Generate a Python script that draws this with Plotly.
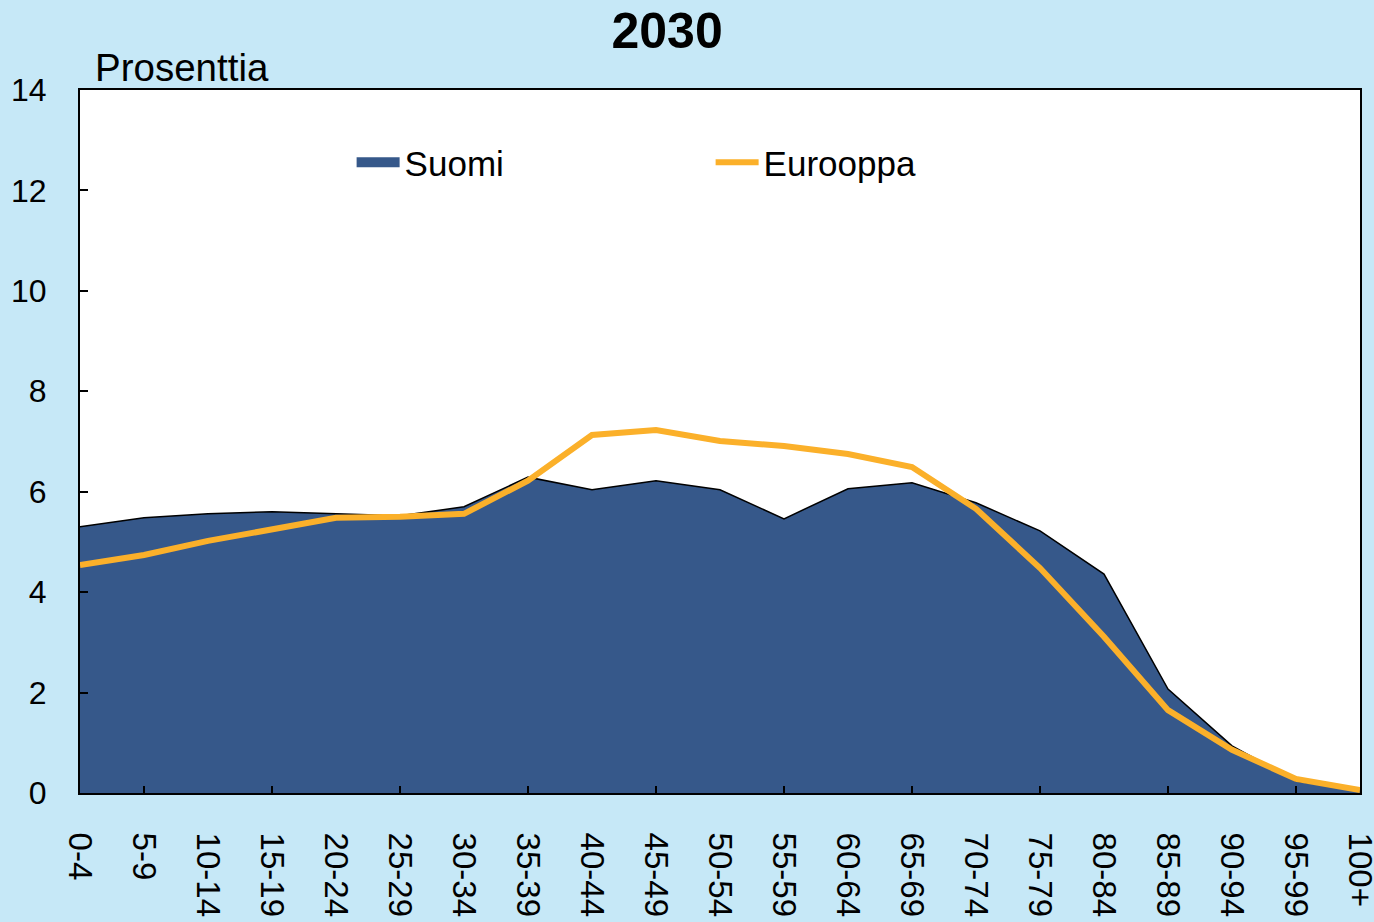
import plotly.graph_objects as go

categories = ["0-4", "5-9", "10-14", "15-19", "20-24", "25-29", "30-34", "35-39",
              "40-44", "45-49", "50-54", "55-59", "60-64", "65-69", "70-74",
              "75-79", "80-84", "85-89", "90-94", "95-99", "100+"]
suomi = [5.30, 5.48, 5.56, 5.60, 5.56, 5.52, 5.70, 6.29, 6.04, 6.22, 6.04,
         5.46, 6.06, 6.18, 5.78, 5.22, 4.36, 2.07, 0.94, 0.24, 0.06]
eurooppa = [4.54, 4.74, 5.02, 5.26, 5.48, 5.50, 5.56, 6.22, 7.13, 7.23, 7.01,
            6.91, 6.75, 6.49, 5.66, 4.48, 3.11, 1.65, 0.86, 0.28, 0.06]
y_ticks = [0, 2, 4, 6, 8, 10, 12, 14]
tick_marks = categories[1::2]

FONT = "Liberation Sans, Arial, sans-serif"
BLUE = "#36588a"
ORANGE = "#fbb02a"

fig = go.Figure()
fig.add_trace(go.Scatter(
    x=categories, y=suomi, name="Suomi", mode="lines",
    fill="tozeroy", fillcolor=BLUE,
    line=dict(color="#000000", width=1.5), showlegend=False,
))
# legend-only entry to show Suomi as a box
fig.add_trace(go.Scatter(
    x=[None], y=[None], name="Suomi", mode="lines",
    line=dict(color=BLUE, width=18), showlegend=True,
))
fig.add_trace(go.Scatter(
    x=categories, y=eurooppa, name="Eurooppa", mode="lines",
    line=dict(color=ORANGE, width=6),
))
# invisible trace to carry the secondary tick-mark axis
fig.add_trace(go.Scatter(
    x=categories, y=suomi, xaxis="x2", mode="lines",
    line=dict(width=0), showlegend=False, hoverinfo="skip", opacity=0,
))

fig.update_layout(
    width=1374, height=922,
    paper_bgcolor="#c6e8f7",
    plot_bgcolor="#ffffff",
    margin=dict(l=80, r=14, t=90, b=129, autoexpand=False),
    font=dict(family=FONT, color="#000000", size=32),
    title=dict(text="<b>2030</b>", x=0.4855, xanchor="center", y=0.986, yanchor="top",
               font=dict(size=50, family=FONT), automargin=False),
    showlegend=True,
    legend=dict(orientation="h", x=0.2122, xanchor="left", y=0.897, yanchor="middle",
                bgcolor="rgba(0,0,0,0)", font=dict(size=35, family=FONT),
                entrywidth=301, entrywidthmode="pixels", itemwidth=43,
                traceorder="normal"),
    xaxis=dict(
        type="category", categoryorder="array", categoryarray=categories,
        range=[0, 20], tickangle=90, ticks="", showgrid=False,
        showline=True, linecolor="#000000", linewidth=2, mirror=True,
        tickfont=dict(size=33, family=FONT), ticklabelstandoff=31,
        zeroline=False, automargin=False,
    ),
    xaxis2=dict(
        type="category", categoryorder="array", categoryarray=categories,
        overlaying="x", matches="x", range=[0, 20],
        tickmode="array", tickvals=tick_marks, ticks="inside", ticklen=7,
        tickwidth=2, tickcolor="#000000", showticklabels=False,
        showgrid=False, showline=False, side="bottom", automargin=False,
    ),
    yaxis=dict(
        range=[0, 14], tickmode="array", tickvals=y_ticks,
        ticks="inside", ticklen=8, tickwidth=2, tickcolor="#000000",
        showgrid=False, showline=True, linecolor="#000000", linewidth=2,
        mirror=True, zeroline=False, tickfont=dict(size=32, family=FONT),
        ticklabelstandoff=25, automargin=False,
    ),
    annotations=[dict(
        text="Prosenttia", xref="paper", yref="paper", x=0.0125, y=1.0,
        xanchor="left", yanchor="bottom", showarrow=False,
        font=dict(size=38.5, family=FONT), xshift=-3, yshift=-1,
    )],
)

fig.write_html("out.html", config={"displayModeBar": False})

# remove default browser body margin so the figure fills the window exactly
with open("out.html", "r", encoding="utf-8") as f:
    html = f.read()
html = html.replace("<head>", "<head><style>html,body{margin:0;padding:0;overflow:hidden;}</style>", 1)
with open("out.html", "w", encoding="utf-8") as f:
    f.write(html)
